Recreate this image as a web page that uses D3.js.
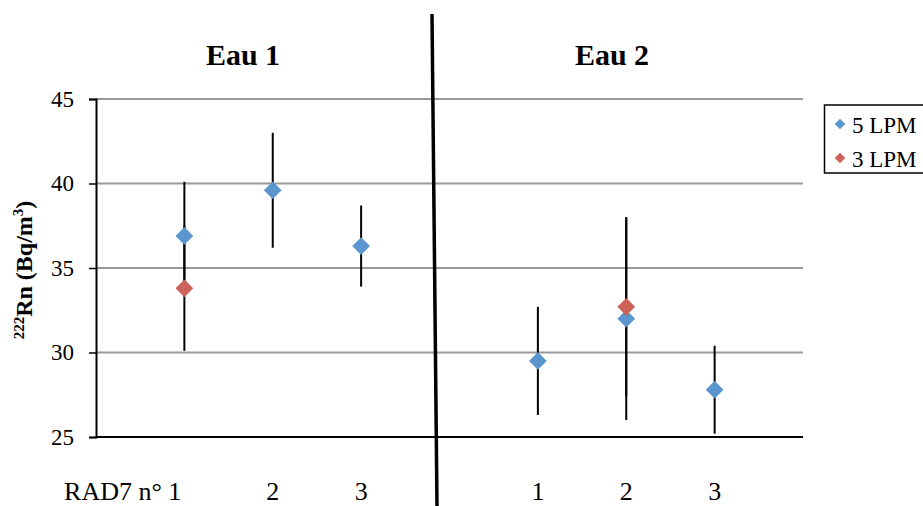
<!DOCTYPE html>
<html><head><meta charset="utf-8">
<script src="https://cdn.jsdelivr.net/npm/d3@7"></script>
<style>body{margin:0;background:#fff}svg{display:block}</style>
</head><body>
<script>
// Data
const groups = ["Eau 1", "Eau 2"];
const categories = ["RAD7 n° 1", "2", "3", "1", "2", "3"];
const catPos = [1, 2, 3, 5, 6, 7];
const series = ["5 LPM", "3 LPM"];
const lpm5 = [36.9, 39.6, 36.3, 29.5, 32.0, 27.8];
const lpm5Err = [3.2, 3.4, 2.4, 3.2, 6.0, 2.6];
const lpm3 = [33.8, null, null, null, 32.7, null];
const lpm3Err = [3.7, null, null, null, 5.3, null];
const yTicks = [25, 30, 35, 40, 45];
const colors = ["#5b95cd", "#cd6259"];

const W = 923, H = 506;
const svg = d3.select("body").append("svg").attr("width", W).attr("height", H);
const font = "'Liberation Serif', 'Times New Roman', serif";

const x = d3.scaleLinear().domain([0, 8]).range([96, 803]);
const y = d3.scaleLinear().domain([25, 45]).range([437, 99]);

// gridlines
svg.append("g").selectAll("line").data(yTicks.filter(t => t > 25)).join("line")
  .attr("x1", x(0)).attr("x2", x(8)).attr("y1", d => y(d)).attr("y2", d => y(d))
  .attr("stroke", "#999").attr("stroke-width", 2);

// y axis
const yAxis = svg.append("g").attr("transform", `translate(${x(0)},0)`)
  .call(d3.axisLeft(y).tickValues(yTicks).tickSize(7).tickPadding(15));
yAxis.select(".domain").attr("stroke", "#000").attr("stroke-width", 2);
yAxis.selectAll(".tick line").attr("stroke", "#000").attr("stroke-width", 1.5);
yAxis.selectAll("text").attr("font-family", font).attr("font-size", 23).attr("fill", "#000");

// x axis line
svg.append("line").attr("x1", x(0)).attr("x2", x(8)).attr("y1", y(25)).attr("y2", y(25))
  .attr("stroke", "#000").attr("stroke-width", 2);

// x labels
svg.append("g").selectAll("text").data(categories).join("text")
  .attr("x", (d, i) => i === 0 ? x(catPos[i]) - 3 : x(catPos[i]))
  .attr("y", 500)
  .attr("text-anchor", (d, i) => i === 0 ? "end" : "middle")
  .attr("font-family", font).attr("font-size", 26).text(d => d);

// error bars
function errBars(vals, errs) {
  const data = vals.map((v, i) => ({v, e: errs[i], p: catPos[i]})).filter(d => d.v != null);
  svg.append("g").selectAll("line").data(data).join("line")
    .attr("x1", d => x(d.p)).attr("x2", d => x(d.p))
    .attr("y1", d => y(d.v + d.e)).attr("y2", d => y(d.v - d.e))
    .attr("stroke", "#000").attr("stroke-width", 2);
}
errBars(lpm5, lpm5Err);
errBars(lpm3, lpm3Err);

const diamond = d3.symbol().type(d3.symbolDiamond2).size(200);
function points(vals, color) {
  const data = vals.map((v, i) => ({v, p: catPos[i]})).filter(d => d.v != null);
  svg.append("g").selectAll("path").data(data).join("path")
    .attr("d", diamond)
    .attr("transform", d => `translate(${x(d.p)},${y(d.v)})`)
    .attr("fill", color);
}
points(lpm5, colors[0]);
points(lpm3, colors[1]);

// divider
svg.append("line").attr("x1", 432).attr("y1", 14).attr("x2", 437).attr("y2", 506)
  .attr("stroke", "#000").attr("stroke-width", 3.5);

// group titles
svg.append("g").selectAll("text").data(groups).join("text")
  .attr("x", (d, i) => i === 0 ? 243 : 612).attr("y", 65)
  .attr("text-anchor", "middle").attr("font-family", font)
  .attr("font-weight", "bold").attr("font-size", 30).text(d => d);

// y title
const yt = svg.append("text").attr("transform", "translate(32,270) rotate(-90)")
  .attr("text-anchor", "middle").attr("font-family", font).attr("font-weight", "bold").attr("font-size", 24);
yt.append("tspan").attr("font-size", 15).attr("dy", -8).text("222");
yt.append("tspan").attr("dy", 8).text("Rn (Bq/m");
yt.append("tspan").attr("font-size", 15).attr("dy", -9).text("3");
yt.append("tspan").attr("dy", 9).text(")");

// legend
const lg = svg.append("g");
lg.append("rect").attr("x", 824.5).attr("y", 105).attr("width", 110).attr("height", 68)
  .attr("fill", "#fff").attr("stroke", "#000").attr("stroke-width", 1.5);
series.forEach((s, i) => {
  const cy = 124 + i * 34;
  lg.append("path").attr("d", d3.symbol().type(d3.symbolDiamond2).size(72))
    .attr("transform", `translate(840,${cy})`).attr("fill", colors[i]);
  lg.append("text").attr("x", 852).attr("y", cy + 9).attr("font-family", font)
    .attr("font-size", 23).text(s);
});
</script>
</body></html>
